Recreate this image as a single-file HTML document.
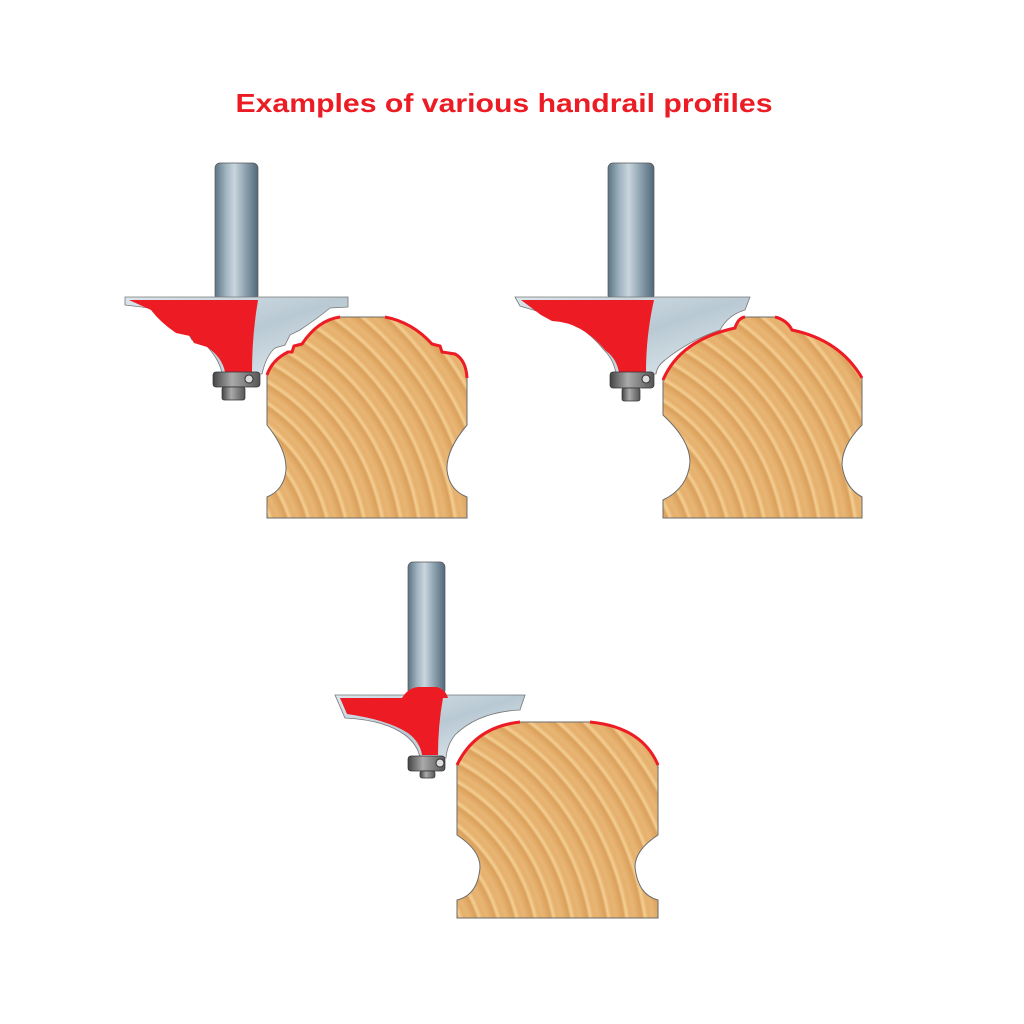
<!DOCTYPE html>
<html><head><meta charset="utf-8"><style>html,body{margin:0;padding:0;background:#fff}svg{display:block}</style></head>
<body>
<svg width="1024" height="1024" viewBox="0 0 1024 1024" xmlns="http://www.w3.org/2000/svg">
<defs>
<linearGradient id="sh" x1="0" x2="1" y1="0" y2="0">
<stop offset="0" stop-color="#5d7482"/><stop offset="0.25" stop-color="#9fb3c0"/><stop offset="0.45" stop-color="#c9d6de"/><stop offset="0.7" stop-color="#8ea3b0"/><stop offset="1" stop-color="#52687a"/>
</linearGradient>
<linearGradient id="sv" x1="0" x2="1" y1="0" y2="1">
<stop offset="0" stop-color="#dbe6ec"/><stop offset="0.5" stop-color="#b9c9d3"/><stop offset="1" stop-color="#e3ecf1"/>
</linearGradient>
<linearGradient id="br" x1="0" x2="1">
<stop offset="0" stop-color="#444"/><stop offset="0.4" stop-color="#aaa"/><stop offset="1" stop-color="#555"/>
</linearGradient>
<radialGradient id="w1" gradientUnits="userSpaceOnUse" cx="160" cy="560" r="18" spreadMethod="repeat">
<stop offset="0" stop-color="#e8b574"/><stop offset="0.4" stop-color="#dba05b"/><stop offset="0.55" stop-color="#f3cf93"/><stop offset="0.75" stop-color="#e6b06c"/><stop offset="1" stop-color="#e8b574"/>
</radialGradient>
<radialGradient id="w2" gradientUnits="userSpaceOnUse" cx="560" cy="560" r="18" spreadMethod="repeat">
<stop offset="0" stop-color="#e8b574"/><stop offset="0.4" stop-color="#dba05b"/><stop offset="0.55" stop-color="#f3cf93"/><stop offset="0.75" stop-color="#e6b06c"/><stop offset="1" stop-color="#e8b574"/>
</radialGradient>
<radialGradient id="w3" gradientUnits="userSpaceOnUse" cx="350" cy="960" r="18" spreadMethod="repeat">
<stop offset="0" stop-color="#e8b574"/><stop offset="0.4" stop-color="#dba05b"/><stop offset="0.55" stop-color="#f3cf93"/><stop offset="0.75" stop-color="#e6b06c"/><stop offset="1" stop-color="#e8b574"/>
</radialGradient>
</defs>

<text x="504" y="112" text-anchor="middle" font-family="Liberation Sans, sans-serif" font-weight="bold" font-size="26" fill="#ec1c24" textLength="537" lengthAdjust="spacingAndGlyphs">Examples of various handrail profiles</text>

<!-- ===== Bit 1 ===== -->
<rect x="215" y="163" width="43" height="137" rx="5" fill="url(#sh)" stroke="#555" stroke-width="0.7"/>
<path d="M125,297 L348,297 L348,307 L330,308 Q318,318 300,330 L290,335 L285,345 L275,348 Q266,356 262,374 L222,374 Q220,360 205,344 L192,340 L188,333 L175,330 Q160,320 150,308 L125,305 Z" fill="url(#sv)" stroke="#777" stroke-width="0.8"/>
<path d="M129,300 L258,300 Q252,335 252,372 L225,372 Q222,357 207,347 L194,343 L190,336 L176,333 Q160,322 151,310 Z" fill="#ed1c24"/>
<rect x="213" y="372" width="47" height="15" rx="3" fill="url(#br)" stroke="#333" stroke-width="0.7"/>
<rect x="222" y="387" width="23" height="13" rx="2" fill="url(#br)" stroke="#333" stroke-width="0.7"/>
<circle cx="249" cy="379" r="4" fill="#ddd" stroke="#333"/>
<path d="M267,518 L267,497 Q284,490 286,470 Q287,450 267,425 L267,375 Q272,360 288,352 L292,352 L294,346 L302,344 Q318,320 340,317 L385,317 Q412,322 432,344 L440,346 L442,352 L455,354 Q466,360 467,378 L467,425 Q446,450 447,470 Q449,490 467,497 L467,518 Z" fill="url(#w1)" stroke="#6b6b6b" stroke-width="1"/>
<path d="M267,375 Q272,360 288,352 L292,352 L294,346 L302,344 Q318,320 340,317 M385,317 Q412,322 432,344 L440,346 L442,352 L455,354 Q466,360 467,378" fill="none" stroke="#ed1c24" stroke-width="3"/>

<!-- ===== Bit 2 ===== -->
<rect x="608" y="163" width="46" height="137" rx="5" fill="url(#sh)" stroke="#555" stroke-width="0.7"/>
<path d="M515,297 L750,297 L745,310 Q728,315 720,330 Q690,340 665,360 Q657,366 656,374 L616,374 Q614,360 604,350 Q580,320 550,318 L540,312 L520,306 Z" fill="url(#sv)" stroke="#777" stroke-width="0.8"/>
<path d="M521,300 L654,300 Q646,335 646,372 L619,372 Q616,358 606,351 Q582,322 552,321 L541,315 Z" fill="#ed1c24"/>
<rect x="610" y="372" width="44" height="16" rx="3" fill="url(#br)" stroke="#333" stroke-width="0.7"/>
<rect x="622" y="388" width="18" height="13" rx="2" fill="url(#br)" stroke="#333" stroke-width="0.7"/>
<circle cx="646" cy="379" r="4" fill="#ddd" stroke="#333"/>
<path d="M663,518 L663,500 Q688,488 690,462 Q690,440 663,415 L663,380 Q680,340 735,328 Q738,318 745,317 L775,317 Q787,320 792,330 Q840,340 862,378 L862,425 Q842,445 842,465 Q845,488 862,497 L862,518 Z" fill="url(#w2)" stroke="#6b6b6b" stroke-width="1"/>
<path d="M663,380 Q680,340 735,328 Q738,318 745,317 M775,317 Q787,320 792,330 Q840,340 862,378" fill="none" stroke="#ed1c24" stroke-width="3"/>

<!-- ===== Bit 3 ===== -->
<rect x="408" y="562" width="37" height="133" rx="5" fill="url(#sh)" stroke="#555" stroke-width="0.7"/>
<path d="M335,695 L525,695 L520,710 Q478,712 455,735 Q447,745 446,758 L420,758 Q418,745 405,735 Q385,720 345,718 Z" fill="url(#sv)" stroke="#777" stroke-width="0.8"/>
<path d="M340,698 L402,698 Q408,688 418,687 L437,687 Q446,690 448,698 L443,698 Q438,725 438,755 L422,755 Q420,742 408,733 Q388,720 347,714 Z" fill="#ed1c24"/>
<rect x="408" y="756" width="37" height="15" rx="3" fill="url(#br)" stroke="#333" stroke-width="0.7"/>
<rect x="420" y="771" width="15" height="7" rx="2" fill="url(#br)" stroke="#333" stroke-width="0.7"/>
<circle cx="440" cy="763" r="4" fill="#ddd" stroke="#333"/>
<path d="M457,918 L457,900 Q478,895 480,867 Q480,850 457,835 L457,765 Q475,727 520,722 L590,722 Q642,727 658,765 L658,835 Q635,850 635,867 Q638,895 658,900 L658,918 Z" fill="url(#w3)" stroke="#6b6b6b" stroke-width="1"/>
<path d="M457,765 Q475,727 520,722 M590,722 Q642,727 658,765" fill="none" stroke="#ed1c24" stroke-width="3"/>
</svg>
</body></html>
